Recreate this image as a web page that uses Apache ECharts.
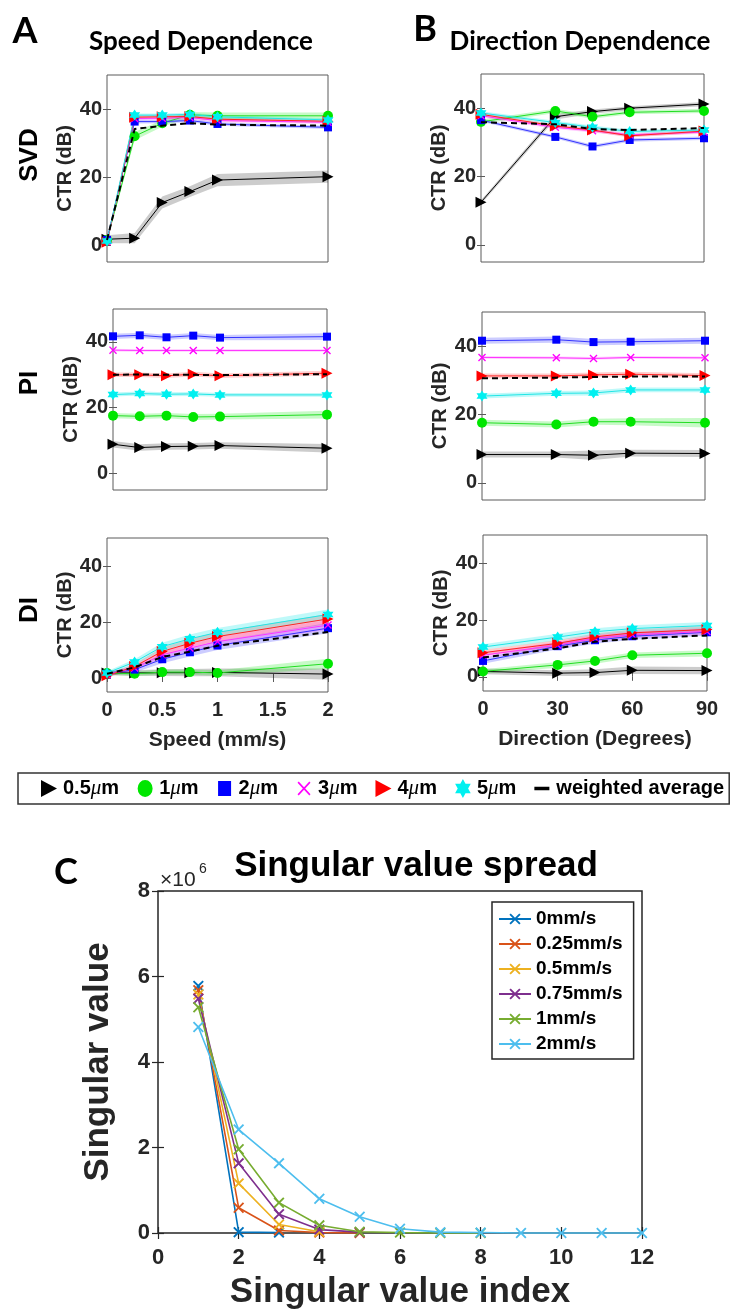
<!DOCTYPE html>
<html><head><meta charset="utf-8">
<script src="https://cdn.jsdelivr.net/npm/echarts@6/dist/echarts.min.js"></script>
<style>html,body{margin:0;padding:0;background:#fff}#c{width:744px;height:1311px}</style>
</head><body><div id="c"></div>
<script>
// ---------------- DATA ----------------
const speeds = [0, 0.25, 0.5, 0.75, 1, 2];
const directions = [0, 30, 45, 60, 90];
const sizeLabels = ['0.5μm', '1μm', '2μm', '3μm', '4μm', '5μm'];
const avgLabel = 'weighted average';
const ctrTicks = [0, 20, 40];

// rows: 0.5, 1, 2, 3, 4, 5 µm  (CTR in dB)
const svdSpeedCTR = [
  [1.7, 2.0, 12.5, 15.7, 19.1, 20.1],
  [1.5, 32.0, 35.8, 38.3, 38.0, 38.0],
  [1.5, 36.3, 36.3, 36.6, 35.6, 34.6],
  [1.0, 37.2, 37.3, 37.5, 36.6, 36.1],
  [0.8, 37.6, 37.7, 37.8, 37.0, 36.4],
  [1.2, 38.2, 38.2, 38.4, 37.7, 36.8]
];
const svdSpeedAvg = [1.5, 34.1, 35.1, 35.8, 35.4, 35.1];
const svdSpeedSpread = [
  [1.2, 1.5, 1.8, 1.6, 1.8, 1.8],
  [0.4, 1.2, 1.0, 0.8, 1.0, 1.0],
  [0.3, 0.6, 0.5, 0.5, 0.5, 0.5],
  [0.3, 0.5, 0.5, 0.5, 0.5, 0.5],
  [0.3, 0.5, 0.5, 0.5, 0.5, 0.5],
  [0.3, 0.5, 0.5, 0.5, 0.5, 0.5]
];

const svdDirCTR = [
  [12.5, 37.5, 39.0, 40.0, 41.2],
  [36.0, 39.2, 37.5, 38.8, 39.2],
  [36.5, 31.6, 28.8, 30.7, 31.2],
  [37.8, 34.4, 33.4, 32.2, 33.0],
  [38.2, 34.8, 33.6, 31.9, 33.3],
  [38.6, 35.8, 34.4, 33.2, 33.6]
];
const svdDirAvg = [35.9, 35.3, 33.9, 33.6, 34.2];
const svdDirSpread = [
  [0.6, 0.8, 0.6, 0.6, 0.6],
  [0.6, 0.6, 0.6, 0.6, 0.6],
  [0.5, 0.5, 0.5, 0.5, 0.5],
  [0.5, 0.5, 0.5, 0.5, 0.5],
  [0.5, 0.5, 0.5, 0.5, 0.5],
  [0.5, 0.5, 0.5, 0.5, 0.5]
];

const piSpeedCTR = [
  [8.9, 7.9, 8.2, 8.3, 8.5, 7.7],
  [17.6, 17.4, 17.6, 17.2, 17.3, 17.9],
  [41.7, 42.0, 41.4, 41.9, 41.3, 41.6],
  [37.5, 37.4, 37.4, 37.4, 37.4, 37.4],
  [30.0, 30.0, 29.7, 30.2, 29.7, 30.5],
  [24.0, 24.3, 24.1, 24.2, 23.9, 23.9]
];
const piSpeedAvg = [30.0, 30.1, 30.0, 30.0, 29.9, 30.2];
const piSpeedSpread = [
  [1.0, 1.0, 1.0, 1.0, 1.0, 1.3],
  [0.8, 0.8, 0.8, 0.9, 0.9, 1.2],
  [0.8, 0.8, 0.8, 0.8, 0.8, 1.0],
  [0.4, 0.4, 0.4, 0.4, 0.4, 0.4],
  [0.7, 0.7, 0.7, 0.7, 0.7, 0.7],
  [0.6, 0.6, 0.6, 0.6, 0.6, 0.6]
];

const piDirCTR = [
  [8.3, 8.3, 8.1, 8.7, 8.6],
  [17.6, 17.1, 17.9, 17.9, 17.6],
  [41.6, 41.9, 41.2, 41.3, 41.6],
  [36.7, 36.6, 36.4, 36.7, 36.6],
  [31.3, 31.3, 31.6, 31.8, 31.4],
  [25.4, 26.2, 26.3, 27.2, 27.2]
];
const piDirAvg = [30.6, 30.8, 31.0, 31.1, 31.1];
const piDirSpread = [
  [0.9, 0.9, 1.4, 1.0, 1.0],
  [0.9, 0.9, 0.9, 1.0, 1.4],
  [0.9, 0.9, 0.9, 0.9, 0.9],
  [0.4, 0.4, 0.4, 0.4, 0.4],
  [0.7, 0.7, 0.7, 0.7, 0.7],
  [0.7, 0.7, 0.7, 0.7, 0.7]
];

const diSpeedCTR = [
  [1.8, 1.8, 1.9, 1.9, 2.0, 1.4],
  [1.8, 1.5, 2.1, 2.1, 1.8, 5.1],
  [1.5, 3.0, 6.7, 9.2, 11.6, 17.8],
  [1.2, 3.6, 8.3, 10.7, 13.0, 18.9],
  [0.8, 4.1, 9.5, 12.4, 14.8, 21.1],
  [1.8, 5.7, 11.2, 14.0, 16.3, 22.7]
];
const diSpeedAvg = [1.5, 3.8, 7.5, 9.4, 11.5, 16.4];
const diSpeedSpread = [
  [0.8, 1.0, 1.2, 1.3, 1.4, 2.0],
  [0.6, 0.8, 0.9, 0.9, 1.0, 1.8],
  [0.6, 1.0, 1.4, 1.5, 1.6, 1.8],
  [0.6, 1.0, 1.4, 1.5, 1.6, 1.8],
  [0.6, 1.0, 1.4, 1.5, 1.6, 1.8],
  [0.6, 1.0, 1.4, 1.5, 1.6, 1.8]
];

const diDirCTR = [
  [1.9, 1.3, 1.5, 2.3, 2.2],
  [1.9, 4.2, 5.6, 7.6, 8.3],
  [5.6, 10.8, 12.9, 14.3, 15.7],
  [7.6, 11.2, 13.6, 14.8, 16.0],
  [8.5, 11.8, 14.1, 15.5, 16.7],
  [10.5, 14.0, 15.9, 17.0, 18.1]
];
const diDirAvg = [6.8, 10.0, 12.4, 13.4, 14.6];
const diDirSpread = [
  [1.0, 1.0, 1.2, 1.3, 1.3],
  [0.8, 1.0, 1.0, 1.0, 1.1],
  [1.0, 1.2, 1.2, 1.2, 1.2],
  [1.0, 1.2, 1.2, 1.2, 1.2],
  [1.0, 1.2, 1.2, 1.2, 1.2],
  [1.0, 1.2, 1.2, 1.2, 1.2]
];

// Panel C: singular values (in units of 1e6)
const svLabels = ['0mm/s', '0.25mm/s', '0.5mm/s', '0.75mm/s', '1mm/s', '2mm/s'];
const svIndex = [1, 2, 3, 4, 5, 6, 7, 8, 9, 10, 11, 12];
const sv0 = [5.78, 0.02, 0.01];
const sv025 = [5.68, 0.59, 0.06, 0.01, 0.0];
const sv05 = [5.58, 1.16, 0.20, 0.03];
const sv075 = [5.48, 1.63, 0.44, 0.08, 0.02];
const sv1 = [5.28, 1.96, 0.71, 0.18, 0.03, 0.01, 0.0, 0.0];
const sv2 = [4.82, 2.42, 1.63, 0.80, 0.38, 0.10, 0.02, 0.01, 0.0, 0.0, 0.0, 0.0];

// ---------------- STYLE ----------------
const sizeColors = ['#000000', '#00e600', '#0000ff', '#ff00ff', '#ff0000', '#00f0f0'];
const lineColors = ['#000000', '#22dd22', '#3333ff', '#ff33ff', '#ff2222', '#22e5e5'];
const bandColors = ['rgba(0,0,0,0.2)', 'rgba(0,230,0,0.22)', 'rgba(0,0,255,0.2)', 'rgba(255,0,255,0.2)', 'rgba(255,0,0,0.2)', 'rgba(0,230,230,0.25)'];
const triPath = 'path://M0,0L10,5L0,10Z';
const xPath = 'path://M0,1.2L1.2,0L5,3.8L8.8,0L10,1.2L6.2,5L10,8.8L8.8,10L5,6.2L1.2,10L0,8.8L3.8,5Z';
const starPath = 'path://M10,0L12.89,5L18.66,5L15.77,10L18.66,15L12.89,15L10,20L7.11,15L1.34,15L4.23,10L1.34,5L7.11,5Z';
const markers = [triPath, 'circle', 'rect', xPath, triPath, starPath];
const markerSizes = [11, 10, 8, 8, 11, 11];
const svColors = ['#0072BD', '#D95319', '#EDB120', '#7E2F8E', '#77AC30', '#4DBEEE'];
const FONT = '"Liberation Sans", Arial, sans-serif';
const AX = '#262626';

const option = {animation: false, grid: [], xAxis: [], yAxis: [], series: [], legend: [], graphic: []};

function bandSeries(xi, yi, xs, m, s, color) {
  return {
    type: 'custom', xAxisIndex: xi, yAxisIndex: yi, silent: true, z: 1,
    data: xs.map((x, i) => [x, m[i] - s[i], m[i] + s[i]]),
    encode: {x: 0, y: [1, 2]},
    renderItem: function (params, api) {
      if (params.dataIndexInside !== 0) return null;
      const n = params.dataInsideLength;
      const lo = [], hi = [];
      for (let i = 0; i < n; i++) {
        lo.push(api.coord([api.value(0, i), api.value(1, i)]));
        hi.push(api.coord([api.value(0, i), api.value(2, i)]));
      }
      return {type: 'polygon', shape: {points: lo.concat(hi.reverse())}, style: {fill: color}};
    }
  };
}

function addPanel(box, xs, xMax, xInterval, means, avg, spreads, showX, xName) {
  const g = option.grid.length;
  option.grid.push(Object.assign({show: true, borderColor: '#5a5a5a', borderWidth: 1, backgroundColor: 'transparent'}, box));
  const tickStyle = {color: '#5a5a5a', width: 1};
  const xi = option.xAxis.length;
  option.xAxis.push({type: 'value', gridIndex: g, min: 0, max: xMax, interval: xInterval, position: 'bottom',
    axisLine: {show: false}, splitLine: {show: false},
    axisTick: {show: showX, inside: true, length: 4, lineStyle: tickStyle},
    axisLabel: {show: showX, color: AX, fontWeight: 'bold', fontSize: 20, fontFamily: FONT, margin: 8},
    name: showX ? xName : '', nameLocation: 'middle', nameGap: 38,
    nameTextStyle: {color: AX, fontWeight: 'bold', fontSize: 21, fontFamily: FONT}});
  option.xAxis.push({type: 'value', gridIndex: g, min: 0, max: xMax, interval: xInterval, position: 'top',
    axisLine: {show: false}, splitLine: {show: false},
    axisTick: {show: showX, inside: true, length: 4, lineStyle: tickStyle}, axisLabel: {show: false}});
  const yi = option.yAxis.length;
  option.yAxis.push({type: 'value', gridIndex: g, min: -5, max: 50, position: 'left',
    axisLine: {show: false}, splitLine: {show: false},
    axisTick: {inside: true, length: 4, customValues: ctrTicks, lineStyle: tickStyle},
    axisLabel: {customValues: ctrTicks, color: AX, fontWeight: 'bold', fontSize: 20, fontFamily: FONT, margin: 5},
    name: 'CTR (dB)', nameLocation: 'middle', nameRotate: 90, nameGap: 32,
    nameTextStyle: {color: AX, fontWeight: 'bold', fontSize: 20, fontFamily: FONT}});
  option.yAxis.push({type: 'value', gridIndex: g, min: -5, max: 50, position: 'right',
    axisLine: {show: false}, splitLine: {show: false},
    axisTick: {inside: true, length: 4, customValues: ctrTicks, lineStyle: tickStyle},
    axisLabel: {show: false}});
  means.forEach((m, k) => {
    option.series.push(bandSeries(xi, yi, xs, m, spreads[k], bandColors[k]));
  });
  means.forEach((m, k) => {
    option.series.push({type: 'line', name: sizeLabels[k], xAxisIndex: xi, yAxisIndex: yi,
      data: xs.map((x, i) => [x, m[i]]), symbol: markers[k], symbolSize: markerSizes[k], showSymbol: true,
      itemStyle: {color: sizeColors[k], borderWidth: 0}, lineStyle: {color: lineColors[k], width: 1}, z: 2, clip: false});
  });
  option.series.push({type: 'line', name: avgLabel, xAxisIndex: xi, yAxisIndex: yi,
    data: xs.map((x, i) => [x, avg[i]]), symbol: 'none',
    itemStyle: {color: '#000'}, lineStyle: {color: '#000', width: 2, type: [6, 4]}, z: 3, clip: false});
}

addPanel({left: 107, top: 75, width: 221, height: 187}, speeds, 2, 0.5, svdSpeedCTR, svdSpeedAvg, svdSpeedSpread, false, '');
addPanel({left: 481, top: 74, width: 223, height: 188}, directions, 90, 30, svdDirCTR, svdDirAvg, svdDirSpread, false, '');
addPanel({left: 113, top: 309, width: 214, height: 181}, speeds, 2, 0.5, piSpeedCTR, piSpeedAvg, piSpeedSpread, false, '');
addPanel({left: 482, top: 312, width: 223, height: 188}, directions, 90, 30, piDirCTR, piDirAvg, piDirSpread, false, '');
addPanel({left: 107, top: 538, width: 221, height: 154}, speeds, 2, 0.5, diSpeedCTR, diSpeedAvg, diSpeedSpread, true, 'Speed (mm/s)');
addPanel({left: 483, top: 535, width: 224, height: 156}, directions, 90, 30, diDirCTR, diDirAvg, diDirSpread, true, 'Direction (Degrees)');

// ---------------- Panel C ----------------
(function () {
  const g = option.grid.length;
  option.grid.push({left: 158, top: 891, width: 484, height: 344, show: true, borderColor: AX, borderWidth: 1.5, backgroundColor: 'transparent'});
  const tickStyle = {color: AX, width: 1.2};
  const xi = option.xAxis.length;
  option.xAxis.push({type: 'value', gridIndex: g, min: 0, max: 12, interval: 2, position: 'bottom',
    axisLine: {show: false}, splitLine: {show: false},
    axisTick: {inside: true, length: 6, lineStyle: tickStyle},
    axisLabel: {color: AX, fontWeight: 'bold', fontSize: 22, fontFamily: FONT, margin: 14},
    name: 'Singular value index', nameLocation: 'middle', nameGap: 42,
    nameTextStyle: {color: AX, fontWeight: 'bold', fontSize: 35, fontFamily: FONT}});
  option.xAxis.push({type: 'value', gridIndex: g, min: 0, max: 12, interval: 2, position: 'top',
    axisLine: {show: false}, splitLine: {show: false},
    axisTick: {inside: true, length: 6, lineStyle: tickStyle}, axisLabel: {show: false}});
  const yi = option.yAxis.length;
  option.yAxis.push({type: 'value', gridIndex: g, min: 0, max: 8, interval: 2, position: 'left',
    axisLine: {show: false}, splitLine: {show: false},
    axisTick: {inside: true, length: 6, lineStyle: tickStyle},
    axisLabel: {color: AX, fontWeight: 'bold', fontSize: 22, fontFamily: FONT, margin: 8},
    name: 'Singular value', nameLocation: 'middle', nameRotate: 90, nameGap: 42,
    nameTextStyle: {color: AX, fontWeight: 'bold', fontSize: 35, fontFamily: FONT}});
  option.yAxis.push({type: 'value', gridIndex: g, min: 0, max: 8, interval: 2, position: 'right',
    axisLine: {show: false}, splitLine: {show: false},
    axisTick: {inside: true, length: 6, lineStyle: tickStyle}, axisLabel: {show: false}});
  [sv0, sv025, sv05, sv075, sv1, sv2].forEach((vals, k) => {
    option.series.push({type: 'line', name: svLabels[k], xAxisIndex: xi, yAxisIndex: yi,
      data: vals.map((v, i) => [svIndex[i], v]), symbol: xPath, symbolSize: 11, showSymbol: true,
      itemStyle: {color: svColors[k], borderWidth: 0}, lineStyle: {color: svColors[k], width: 1.6}, z: 2 + k, clip: false});
  });
})();

// ---------------- Legends ----------------
function pad(p) { return 'path://M0,0L0.01,0L0,0.01Z M18,20L17.99,20L18,19.99Z ' + p; }
const legendIcons = [
  pad('M1,1.5L17,10L1,18.5Z'),
  pad('M1.5,10A7.5,8.5 0 1,0 16.5,10A7.5,8.5 0 1,0 1.5,10Z'),
  pad('M2.5,2.5L15.5,2.5L15.5,17.5L2.5,17.5Z'),
  pad('M2.5,4.2L3.7,3L9,8.8L14.3,3L15.5,4.2L10.2,10L15.5,15.8L14.3,17L9,11.2L3.7,17L2.5,15.8L7.8,10Z'),
  pad('M1,1.5L17,10L1,18.5Z'),
  pad('M9,0.5L11.6,5.2L16.8,5.2L14.2,10L16.8,14.8L11.6,14.8L9,19.5L6.4,14.8L1.2,14.8L3.8,10L1.2,5.2L6.4,5.2Z'),
  pad('M1,8.3L16,8.3L16,11.7L1,11.7Z')
];
option.legend.push({
  left: 18, top: 773, orient: 'horizontal', padding: [5, 5, 5, 22],
  itemWidth: 18, itemHeight: 20, itemGap: 17,
  borderColor: '#333', borderWidth: 1.5, backgroundColor: '#fff',
  itemStyle: {borderWidth: 0},
  selectedMode: false,
  data: sizeLabels.concat([avgLabel]).map((n, i) => ({name: n, icon: legendIcons[i]})),
  formatter: function (name) {
    const i = name.indexOf('μ');
    if (i < 0) return '{n|' + name + '}';
    return '{n|' + name.slice(0, i) + '}{mu|μ}{n|' + name.slice(i + 1) + '}';
  },
  textStyle: {fontSize: 20, fontWeight: 'bold', fontFamily: FONT, color: '#000',
    rich: {n: {fontSize: 20, fontWeight: 'bold', fontFamily: FONT, color: '#000'},
           mu: {fontSize: 21, fontStyle: 'italic', fontWeight: 'normal', fontFamily: '"Liberation Serif", serif', color: '#000'}}}
});
option.legend.push({
  left: 492, top: 902, orient: 'vertical', padding: [7, 11, 5, 6],
  itemWidth: 32, itemHeight: 14, itemGap: 5,
  borderColor: AX, borderWidth: 1.5, backgroundColor: '#fff',
  selectedMode: false,
  data: svLabels,
  textStyle: {fontSize: 19, fontWeight: 'bold', fontFamily: FONT, color: '#000', lineHeight: 20}
});

// ---------------- Text ----------------
function txt(x, y, text, font, extra) {
  return Object.assign({type: 'text', x: x, y: y, silent: true,
    style: Object.assign({text: text, font: font, fill: '#000', align: 'center', verticalAlign: 'middle'}, (extra && extra.style) || {})},
    extra && extra.rotation ? {rotation: extra.rotation} : {});
}
const titleFont = '"Lato", "Open Sans", sans-serif';
option.graphic = [
  txt(25, 31, 'A', 'bold 36px ' + titleFont),
  txt(425, 29, 'B', 'bold 36px ' + titleFont),
  txt(66, 872, 'C', 'bold 36px ' + titleFont),
  txt(201, 42, 'Speed Dependence', 'bold 26px ' + titleFont),
  txt(580, 42, 'Direction Dependence', 'bold 26px ' + titleFont),
  txt(30, 155, 'SVD', 'bold 26px ' + FONT, {rotation: Math.PI / 2}),
  txt(30, 383, 'PI', 'bold 26px ' + FONT, {rotation: Math.PI / 2}),
  txt(30, 610, 'DI', 'bold 26px ' + FONT, {rotation: Math.PI / 2}),
  txt(416, 866, 'Singular value spread', 'bold 35px ' + FONT),
  txt(160, 880, '×10', '21px ' + FONT, {style: {align: 'left', fill: AX}}),
  txt(199, 869, '6', '14px ' + FONT, {style: {align: 'left', fill: AX}})
];

const chart = echarts.init(document.getElementById('c'), null, {renderer: 'canvas'});
chart.setOption(option);
</script>
</body></html>
